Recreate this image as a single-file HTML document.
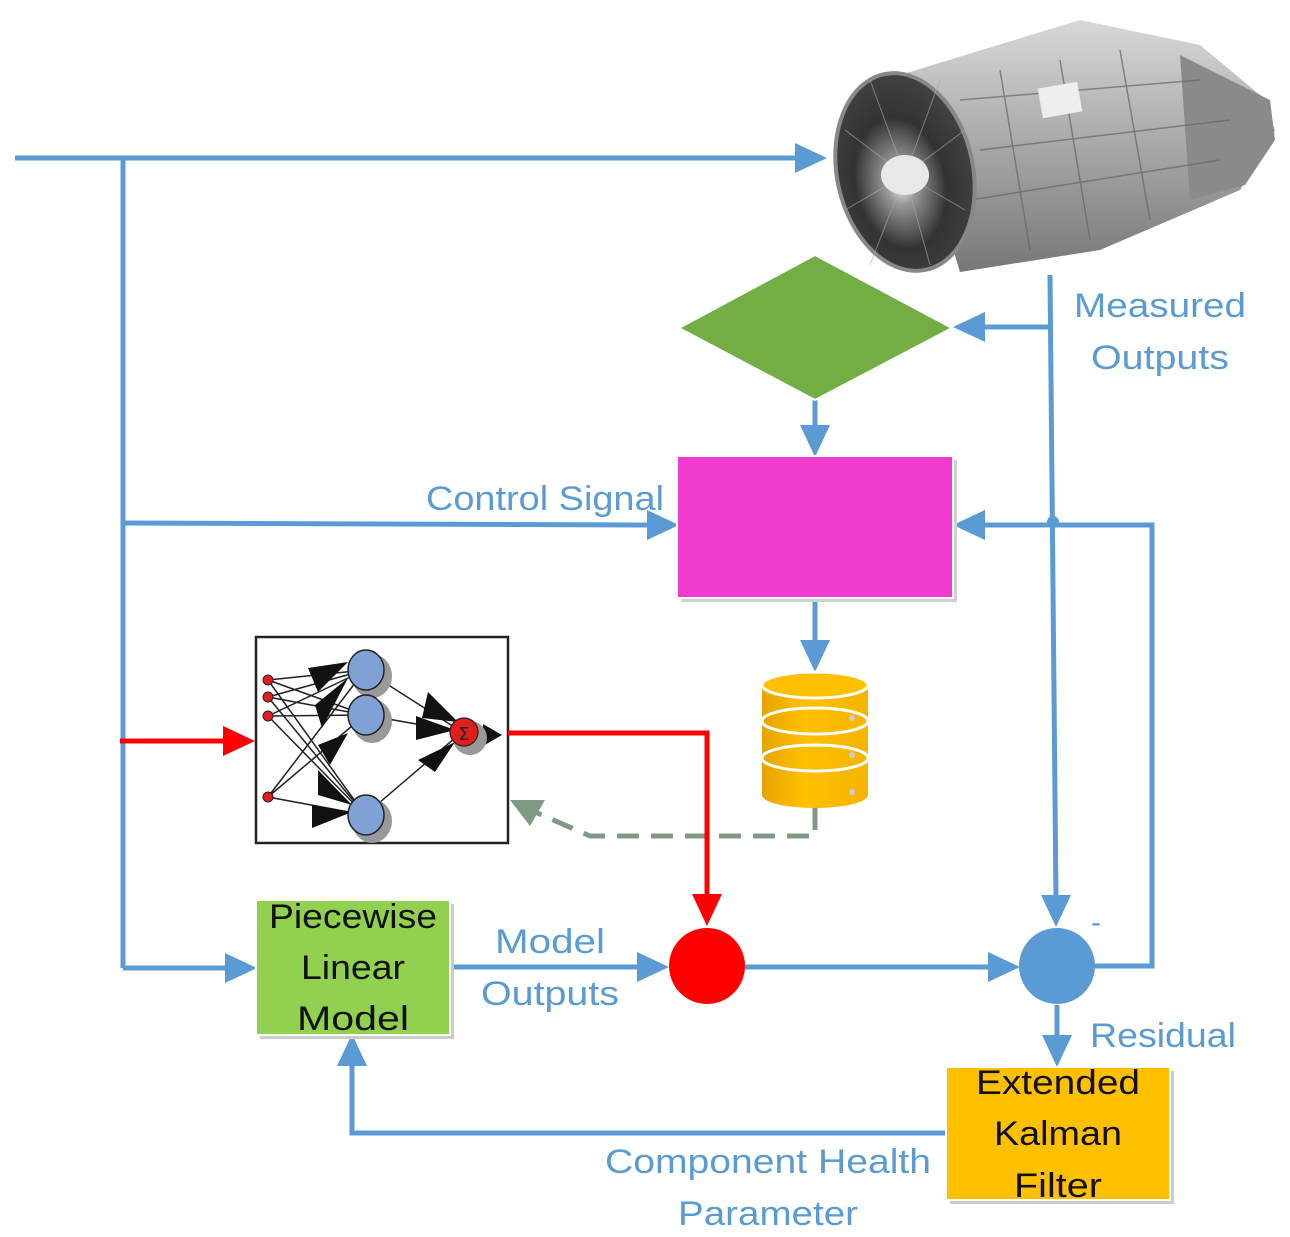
<!DOCTYPE html>
<html><head><meta charset="utf-8"><style>html,body{margin:0;padding:0;background:#fff}svg{display:block}</style></head><body>
<svg width="1290" height="1237" viewBox="0 0 1290 1237" xmlns="http://www.w3.org/2000/svg" font-family="Liberation Sans, sans-serif">
<defs>
<radialGradient id="fan" cx="0.45" cy="0.55" r="0.6"><stop offset="0" stop-color="#f4f4f4"/><stop offset="0.18" stop-color="#999"/><stop offset="0.55" stop-color="#333"/><stop offset="1" stop-color="#444"/></radialGradient>
<linearGradient id="body" x1="0" y1="0" x2="0" y2="1"><stop offset="0" stop-color="#d8d8d8"/><stop offset="0.5" stop-color="#a8a8a8"/><stop offset="1" stop-color="#777"/></linearGradient>
<linearGradient id="db" x1="0" y1="0" x2="1" y2="0"><stop offset="0" stop-color="#e6a400"/><stop offset="0.4" stop-color="#ffc000"/><stop offset="1" stop-color="#f5b400"/></linearGradient>
</defs>

<!-- engine -->
<path d="M900,75 L1080,20 L1200,45 L1260,95 L1275,130 L1240,190 L1100,250 L960,272 Z" fill="url(#body)"/>
<path d="M1180,55 L1270,100 L1275,140 L1245,185 L1190,200 Z" fill="#8a8a8a"/>
<g stroke="#666" stroke-width="1.5" opacity="0.7"><line x1="1000" y1="70" x2="1030" y2="250"/><line x1="1060" y1="60" x2="1090" y2="240"/><line x1="1120" y1="50" x2="1150" y2="220"/><line x1="960" y1="100" x2="1200" y2="80"/><line x1="970" y1="200" x2="1220" y2="160"/><line x1="980" y1="150" x2="1230" y2="120"/></g>
<rect x="1040" y="85" width="40" height="30" fill="#eee" transform="rotate(-10 1060 100)"/>
<ellipse cx="905" cy="172" rx="68" ry="100" transform="rotate(-12 905 172)" fill="url(#fan)" stroke="#888" stroke-width="4"/>
<g stroke="#aaa" stroke-width="1" opacity="0.6">
<line x1="905" y1="175" x2="870" y2="80"/><line x1="905" y1="175" x2="940" y2="80"/><line x1="905" y1="175" x2="965" y2="130"/><line x1="905" y1="175" x2="965" y2="210"/><line x1="905" y1="175" x2="930" y2="265"/><line x1="905" y1="175" x2="870" y2="265"/><line x1="905" y1="175" x2="845" y2="210"/><line x1="905" y1="175" x2="845" y2="130"/>
</g>
<ellipse cx="905" cy="175" rx="24" ry="20" fill="#e8e8e8"/>

<g fill="none" stroke="#5b9bd5" stroke-width="5">
<line x1="15" y1="158" x2="800" y2="158"/>
<line x1="123" y1="158" x2="123" y2="968"/>
<line x1="123" y1="523" x2="650" y2="525"/>
<line x1="123" y1="968" x2="230" y2="968"/>
<line x1="815" y1="400" x2="815" y2="430"/>
<line x1="815" y1="598" x2="815" y2="645"/>
<line x1="1050" y1="275" x2="1056" y2="900"/>
<line x1="1050" y1="327" x2="980" y2="327"/>
<polyline points="1095,966 1152,966 1152,525 980,525"/>
<line x1="450" y1="967" x2="642" y2="967"/>
<line x1="745" y1="967" x2="993" y2="967"/>
<line x1="1057" y1="1005" x2="1057" y2="1040"/>
<polyline points="946,1133 352,1133 352,1062"/>
</g>
<g fill="#5b9bd5">
<polygon points="795,143 827,158 795,173"/>
<polygon points="647,510 679,525 647,540"/>
<polygon points="225,953 257,968 225,983"/>
<polygon points="800,425 815,457 830,425"/>
<polygon points="800,640 815,672 830,640"/>
<polygon points="1041,895 1056,927 1071,895"/>
<polygon points="985,312 953,327 985,342"/>
<polygon points="985,510 953,525 985,540"/>
<polygon points="637,952 669,967 637,982"/>
<polygon points="988,952 1020,967 988,982"/>
<polygon points="1042,1035 1057,1067 1072,1035"/>
<polygon points="337,1066 352,1034 367,1066"/>
</g>
<circle cx="1053" cy="522" r="6" fill="#5b9bd5"/>

<!-- diamond -->
<polygon points="679,328 815,255 952,328 815,400" fill="#72ae43" stroke="#fff" stroke-width="2"/>
<!-- magenta -->
<rect x="681" y="460" width="276" height="142" fill="#d0d0d0"/>
<rect x="677" y="456" width="276" height="142" fill="#f23ccf" stroke="#fff" stroke-width="2"/>

<!-- database -->
<g>
<rect x="762" y="685" width="106" height="110" fill="url(#db)"/>
<ellipse cx="815" cy="795" rx="53" ry="13" fill="url(#db)"/>
<ellipse cx="815" cy="758" rx="53" ry="13" fill="url(#db)" stroke="#fff" stroke-width="3"/>
<ellipse cx="815" cy="721" rx="53" ry="13" fill="url(#db)" stroke="#fff" stroke-width="3"/>
<ellipse cx="815" cy="685" rx="53" ry="13" fill="#ffc000" stroke="#fff" stroke-width="3"/>
<circle cx="852" cy="718" r="3" fill="#ccc"/><circle cx="852" cy="755" r="3" fill="#ccc"/><circle cx="852" cy="792" r="3" fill="#ccc"/>
</g>

<!-- dashed -->
<polyline points="815,808 815,836 590,836 535,812" fill="none" stroke="#7f9a84" stroke-width="5" stroke-dasharray="22,12"/>
<polygon points="510,800 545,800 530,826" fill="#7f9a84"/>

<!-- NN box -->
<rect x="256" y="637" width="252" height="206" fill="#fff" stroke="#222" stroke-width="2.5"/>
<g stroke="#222" stroke-width="1.5">
<line x1="268" y1="680" x2="365" y2="670"/><line x1="268" y1="680" x2="365" y2="715"/><line x1="268" y1="680" x2="365" y2="815"/>
<line x1="268" y1="697" x2="365" y2="670"/><line x1="268" y1="697" x2="365" y2="715"/><line x1="268" y1="697" x2="365" y2="815"/>
<line x1="268" y1="716" x2="365" y2="670"/><line x1="268" y1="716" x2="365" y2="715"/><line x1="268" y1="716" x2="365" y2="815"/>
<line x1="268" y1="797" x2="365" y2="670"/><line x1="268" y1="797" x2="365" y2="715"/><line x1="268" y1="797" x2="365" y2="815"/>
<line x1="365" y1="670" x2="462" y2="732"/><line x1="365" y1="715" x2="462" y2="732"/><line x1="365" y1="815" x2="462" y2="732"/>
</g>
<g fill="#111">
<polygon points="308,668 348,662 318,692"/><polygon points="315,705 348,678 322,728"/><polygon points="318,745 348,733 330,765"/><polygon points="318,770 352,805 318,795"/><polygon points="312,805 352,812 312,828"/>
<polygon points="428,692 458,722 422,718"/><polygon points="416,716 455,730 416,740"/><polygon points="418,760 455,742 435,772"/>
<polygon points="483,724 502,735 483,746"/>
</g>
<g fill="#999"><ellipse cx="372" cy="676" rx="20" ry="22"/><ellipse cx="372" cy="721" rx="20" ry="22"/><ellipse cx="372" cy="821" rx="20" ry="22"/><ellipse cx="470" cy="738" rx="17" ry="17"/></g>
<g fill="#7fa1d6" stroke="#222" stroke-width="1.5"><ellipse cx="366" cy="670" rx="18" ry="20"/><ellipse cx="366" cy="715" rx="18" ry="20"/><ellipse cx="366" cy="815" rx="18" ry="20"/></g>
<circle cx="464" cy="732" r="14" fill="#e21d1d" stroke="#222" stroke-width="1.2"/>
<text x="464" y="740" font-size="18" text-anchor="middle" fill="#222" font-family="DejaVu Sans, sans-serif">Σ</text>
<g fill="#e21d1d" stroke="#222" stroke-width="1"><circle cx="268" cy="680" r="5"/><circle cx="268" cy="697" r="5"/><circle cx="268" cy="716" r="5"/><circle cx="268" cy="797" r="5"/></g>

<!-- red -->
<line x1="120" y1="741" x2="228" y2="741" stroke="#ff0000" stroke-width="5"/>
<polygon points="223,726 255,741 223,756" fill="#ff0000"/>
<polyline points="508,733 707,733 707,898" fill="none" stroke="#ff0000" stroke-width="5"/>
<polygon points="692,894 707,926 722,894" fill="#ff0000"/>
<circle cx="707" cy="966" r="38" fill="#ff0000"/>
<circle cx="1057" cy="966" r="38" fill="#5b9bd5"/>

<!-- PLM -->
<rect x="260" y="904" width="194" height="135" fill="#ccc"/>
<rect x="256" y="900" width="194" height="135" fill="#92d050" stroke="#fff" stroke-width="2"/>
<g font-size="34" text-anchor="middle" fill="#111"><text x="353" y="928" textLength="168" lengthAdjust="spacingAndGlyphs">Piecewise</text><text x="353" y="979" textLength="104" lengthAdjust="spacingAndGlyphs">Linear</text><text x="353" y="1030" textLength="112" lengthAdjust="spacingAndGlyphs">Model</text></g>

<!-- EKF -->
<rect x="950" y="1071" width="224" height="133" fill="#ccc"/>
<rect x="946" y="1067" width="224" height="133" fill="#ffc000" stroke="#fff" stroke-width="2"/>
<g font-size="34" text-anchor="middle" fill="#111"><text x="1058" y="1094" textLength="164" lengthAdjust="spacingAndGlyphs">Extended</text><text x="1058" y="1145" textLength="128" lengthAdjust="spacingAndGlyphs">Kalman</text><text x="1058" y="1197" textLength="88" lengthAdjust="spacingAndGlyphs">Filter</text></g>

<!-- labels -->
<g font-size="34" fill="#5b9bd5" text-anchor="middle">
<text x="1160" y="317" textLength="172" lengthAdjust="spacingAndGlyphs">Measured</text>
<text x="1160" y="369" textLength="138" lengthAdjust="spacingAndGlyphs">Outputs</text>
<text x="545" y="510" textLength="238" lengthAdjust="spacingAndGlyphs">Control Signal</text>
<text x="550" y="953" textLength="110" lengthAdjust="spacingAndGlyphs">Model</text>
<text x="550" y="1005" textLength="138" lengthAdjust="spacingAndGlyphs">Outputs</text>
<text x="1163" y="1047" textLength="146" lengthAdjust="spacingAndGlyphs">Residual</text>
<text x="768" y="1173" textLength="326" lengthAdjust="spacingAndGlyphs">Component Health</text>
<text x="768" y="1225" textLength="180" lengthAdjust="spacingAndGlyphs">Parameter</text>
<text x="1096" y="932" font-size="30">-</text>
</g>
</svg>
</body></html>
